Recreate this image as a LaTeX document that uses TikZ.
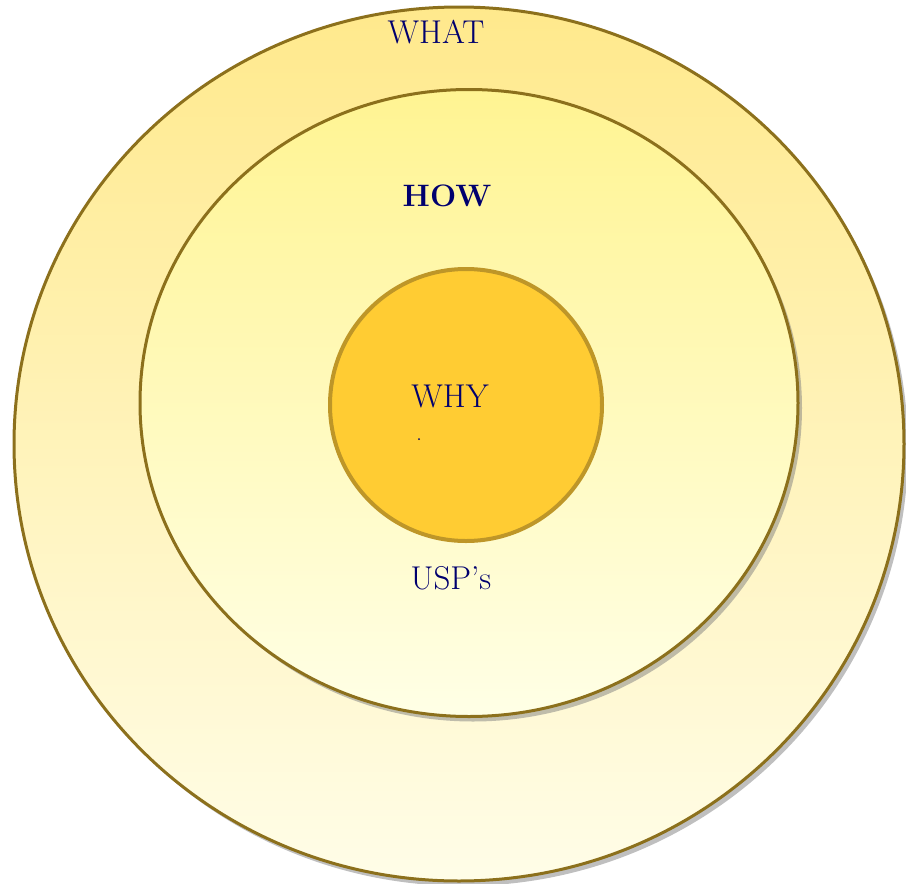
\documentclass[tikz,border=0pt]{standalone}
\usepackage[dvipsnames]{xcolor}
\usepackage{tikz}
\usetikzlibrary{calc}
\usetikzlibrary{shapes.geometric, shadows, positioning}
\definecolor{gold1}{RGB}{140,112,28}
\definecolor{gold2}{RGB}{190,150,40}
\definecolor{sun1}{RGB}{255,204,51}
\definecolor{cream1}{RGB}{255,233,140}
\definecolor{cream2}{RGB}{255,243,170}
\definecolor{cream3}{RGB}{255,253,232}
\definecolor{lemon1}{RGB}{255,244,146}
\definecolor{lemon2}{RGB}{255,252,205}
\definecolor{lemon3}{RGB}{255,255,230}
\definecolor{navy1}{RGB}{0,0,110}

\begin{document}
\begin{tikzpicture}[x=1pt,y=-1pt,semithick]
  \tikzstyle{ring}=[ellipse,draw=gold1,line width=3pt,inner sep=0pt,
                    drop shadow={opacity=0.5,shadow xshift=4pt,shadow yshift=-5pt}]
  \tikzstyle{word}=[text=navy1,font=\fontsize{33}{40}\selectfont]

  \useasboundingbox (0,0) rectangle (906,884);

  \node[ring, minimum width=890pt, minimum height=874pt,
        top color=cream1, middle color=cream2, bottom color=cream3]
        (what) at (459,444) {};
  \node[ring, minimum width=658pt, minimum height=627pt,
        top color=lemon1, middle color=lemon2, bottom color=lemon3]
        (how) at (469,403) {};
  \node[circle, draw=gold2, line width=4pt, fill=sun1,
        minimum size=272pt, inner sep=0pt]
        (why) at (466,405) {};

  \node[word]              (lwhat) at (436,32)  {WHAT};
  \node[word,font=\fontsize{31}{38}\selectfont\bfseries]
                           (lhow)  at (447,196) {HOW};
  \node[word]              (lwhy)  at (450,396) {WHY};
  \node[word]              (lusp)  at (451,578) {USP's};
  \fill[navy1] (419,439) circle (1pt);
\end{tikzpicture}
\end{document}
